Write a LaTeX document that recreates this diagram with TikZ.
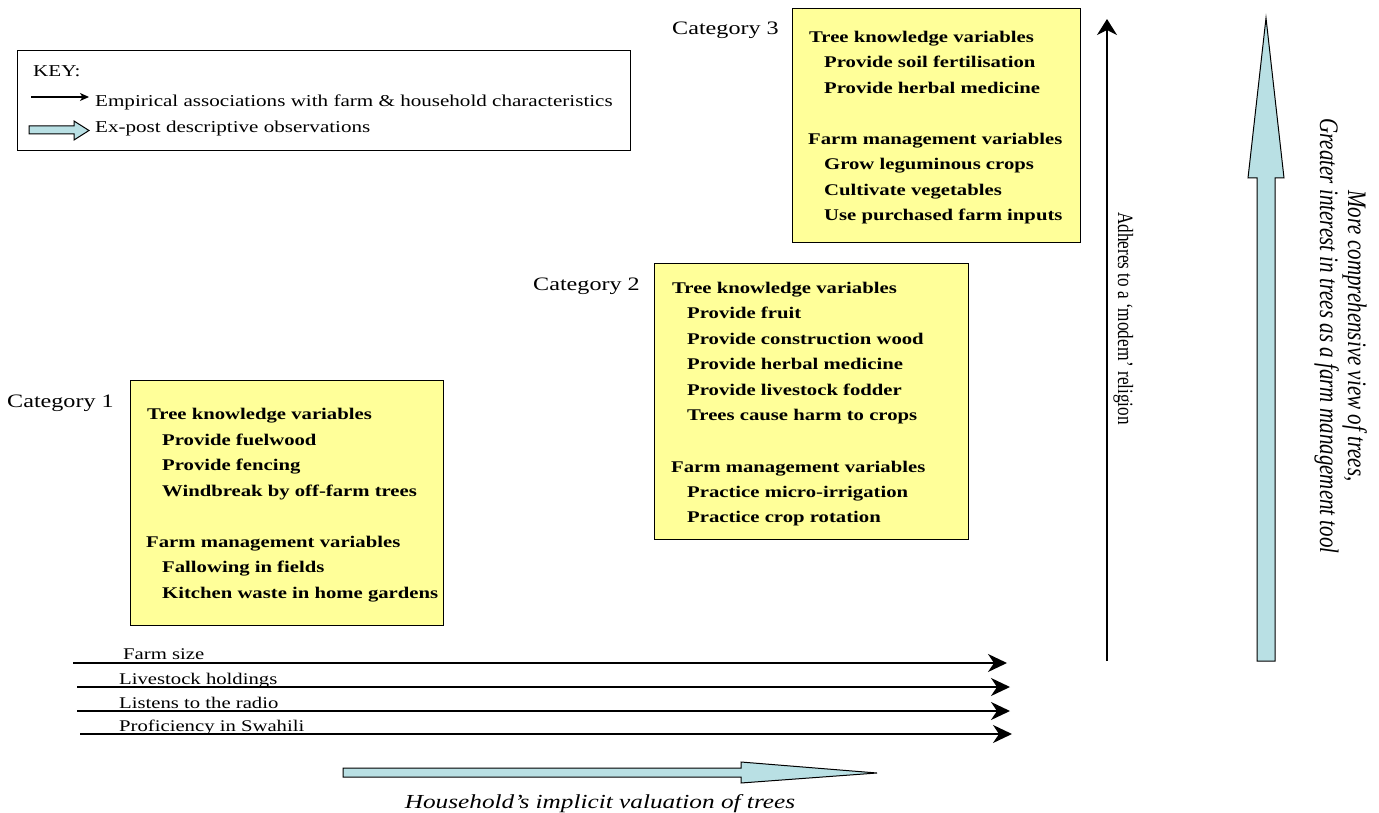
\documentclass[tikz,border=0pt]{standalone}
\usepackage{fontspec}
\setmainfont{Liberation Serif}[FakeStretch=1.27]
\newfontfamily\vfont{Liberation Serif}[FakeStretch=0.787]
\usetikzlibrary{arrows.meta}
\definecolor{boxyellow}{RGB}{255,255,153}
\definecolor{arrowblue}{RGB}{185,224,228}
\begin{document}
\begin{tikzpicture}[x=1pt,y=-1pt,
  catbox/.style={draw=black,line width=1.2pt,fill=boxyellow,anchor=north west,inner sep=0pt},
  keybox/.style={draw=black,line width=1pt,anchor=north west,inner sep=0pt},
  boxtext/.style={anchor=base west,inner sep=0pt,font=\fontsize{16.3}{20}\selectfont\bfseries},
  cattext/.style={anchor=base west,inner sep=0pt,font=\fontsize{19}{22}\selectfont},
  keytext/.style={anchor=base west,inner sep=0pt,font=\fontsize{16.6}{20}\selectfont},
  vartext/.style={anchor=base west,inner sep=0pt,font=\fontsize{16.3}{20}\selectfont},
  harrow/.style={line width=1.6pt,-{Stealth[length=19pt,width=18pt,inset=6pt]}},
  fatarrow/.style={draw=black,line width=1pt,fill=arrowblue,line join=miter}]
\useasboundingbox (0,0) rectangle (1379,813);

% ---------- KEY ----------
\node[keybox,minimum width=613pt,minimum height=100pt] (key) at (17,50) {};
\node[keytext] (keytitle) at (33,77) {KEY:};
\coordinate (ka0) at (31,97);
\coordinate (ka1) at (89,97);
\draw[line width=1.2pt,-{Stealth[length=9pt,width=8pt,inset=2.5pt]}] (ka0) -- (ka1);
\node[keytext] (keyemp) at (95,107) {Empirical associations with farm \& household characteristics};
\draw[fatarrow] (29,126) -- (74,126) -- (74,121) -- (89,130.5) -- (74,140) -- (74,134) -- (29,134) -- cycle;
\node[keytext] (keyexp) at (95,133) {Ex-post descriptive observations};

% ---------- Category 3 ----------
\node[cattext] (cat3) at (672,35) {Category 3};
\node[catbox,minimum width=288pt,minimum height=234pt] (box3) at (792,8) {};
\node[boxtext] (b3a) at (809,42.5) {Tree knowledge variables};
\node[boxtext] (b3b) at (824,68) {Provide soil fertilisation};
\node[boxtext] (b3c) at (824,93.5) {Provide herbal medicine};
\node[boxtext] (b3d) at (808,144.5) {Farm management variables};
\node[boxtext] (b3e) at (824,170) {Grow leguminous crops};
\node[boxtext] (b3f) at (824,195.5) {Cultivate vegetables};
\node[boxtext] (b3g) at (824,221) {Use purchased farm inputs};

% ---------- Category 2 ----------
\node[cattext] (cat2) at (533,290) {Category 2};
\node[catbox,minimum width=314pt,minimum height=276pt] (box2) at (654,263) {};
\node[boxtext] (b2a) at (672,293) {Tree knowledge variables};
\node[boxtext] (b2b) at (687,318.5) {Provide fruit};
\node[boxtext] (b2c) at (687,344) {Provide construction wood};
\node[boxtext] (b2d) at (687,369.5) {Provide herbal medicine};
\node[boxtext] (b2e) at (687,395) {Provide livestock fodder};
\node[boxtext] (b2f) at (687,420.5) {Trees cause harm to crops};
\node[boxtext] (b2g) at (671,472) {Farm management variables};
\node[boxtext] (b2h) at (687,497) {Practice micro-irrigation};
\node[boxtext] (b2i) at (687,522.5) {Practice crop rotation};

% ---------- Category 1 ----------
\node[cattext] (cat1) at (7,407) {Category 1};
\node[catbox,minimum width=313pt,minimum height=245pt] (box1) at (130,380) {};
\node[boxtext] (b1a) at (147,419.5) {Tree knowledge variables};
\node[boxtext] (b1b) at (162,445) {Provide fuelwood};
\node[boxtext] (b1c) at (162,470.5) {Provide fencing};
\node[boxtext] (b1d) at (162,496) {Windbreak by off-farm trees};
\node[boxtext] (b1e) at (146,547) {Farm management variables};
\node[boxtext] (b1f) at (162,572.5) {Fallowing in fields};
\node[boxtext] (b1g) at (162,598) {Kitchen waste in home gardens};

% ---------- horizontal arrows ----------
\coordinate (fs0) at (73,663);   \coordinate (fs1) at (1007,663);
\coordinate (lh0) at (77,687);   \coordinate (lh1) at (1010,687);
\coordinate (lr0) at (77,711);   \coordinate (lr1) at (1010,711);
\coordinate (ps0) at (80,734);   \coordinate (ps1) at (1012,734);
\draw[harrow] (fs0) -- (fs1);
\draw[harrow] (lh0) -- (lh1);
\draw[harrow] (lr0) -- (lr1);
\draw[harrow] (ps0) -- (ps1);
\node[vartext] (farmsize) at (123,659) {Farm size};
\node[vartext] (livestock) at (119,684) {Livestock holdings};
\node[vartext] (radio) at (119,708) {Listens to the radio};
\node[vartext] (swahili) at (119,731) {Proficiency in Swahili};

% ---------- bottom fat arrow ----------
\draw[fatarrow] (343,768) -- (741,768) -- (741,762) -- (877,773) -- (741,783) -- (741,777) -- (343,777) -- cycle;
\node[anchor=base,inner sep=0pt,font=\fontsize{19.9}{22}\selectfont\itshape] (valuation) at (600,808) {Household’s implicit valuation of trees};

% ---------- vertical black arrow ----------
\coordinate (rv0) at (1107,661);
\coordinate (rv1) at (1107,19);
\draw[line width=1.6pt,-{Stealth[length=16pt,width=20pt,inset=5pt]}] (rv0) -- (rv1);
\node[rotate=-90,anchor=base,inner sep=0pt,font=\vfont\fontsize{21.8}{24}\selectfont] (religion) at (1118,318.5) {Adheres to a ‘modern’ religion};

% ---------- vertical fat arrow ----------
\draw[fatarrow] (1257,661) -- (1257,178) -- (1248,178) -- (1266,18) -- (1284,178) -- (1275,178) -- (1275,661) -- cycle;
\node[rotate=-90,anchor=base,inner sep=0pt,font=\vfont\itshape\fontsize{26.7}{28}\selectfont] (morecomp) at (1348,336) {More comprehensive view of trees,};
\node[rotate=-90,anchor=base,inner sep=0pt,font=\vfont\itshape\fontsize{26.7}{28}\selectfont] (greater) at (1320,336) {Greater interest in trees as a farm management tool};
\end{tikzpicture}
\end{document}
